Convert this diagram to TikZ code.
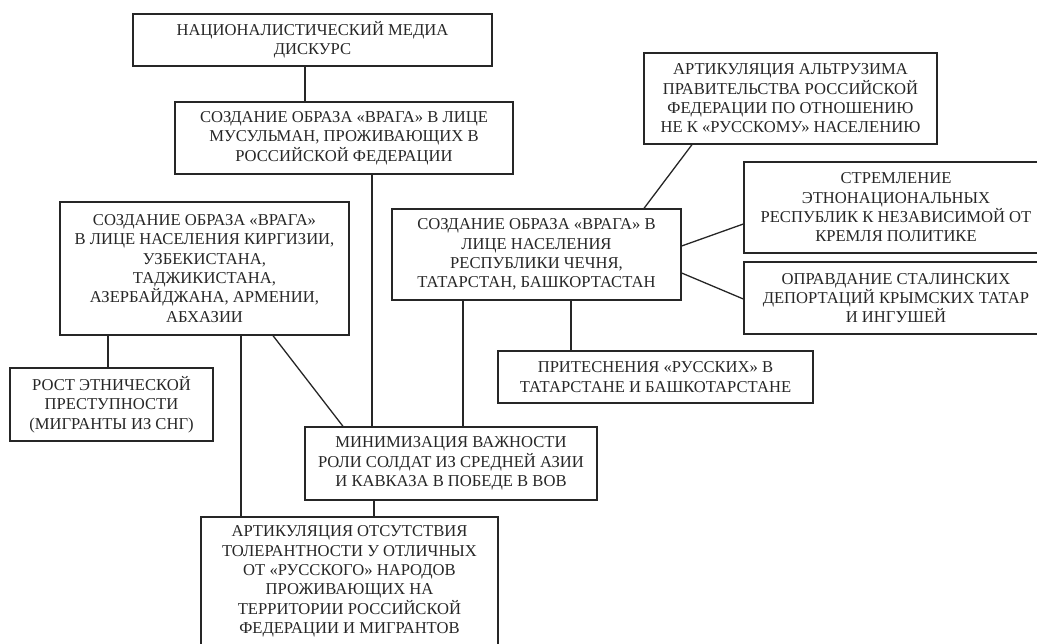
\documentclass[tikz,border=0pt]{standalone}
\usepackage{fontspec}
\setmainfont{Liberation Serif}
\begin{document}
\begin{tikzpicture}[x=1pt,y=-1pt,
  box/.style={draw=black!85,line width=1.3pt,align=center,inner sep=0pt,
    text=black!85,font=\fontsize{16.6}{19.3}\selectfont},
  link/.style={draw=black!85,line width=1.3pt}]
\useasboundingbox (0,0) rectangle (1037,644);
\clip (0,0) rectangle (1037,644);
\node[box,minimum width=359pt,minimum height=52pt] (top) at (312.5,40) {НАЦИОНАЛИСТИЧЕСКИЙ МЕДИА\\ДИСКУРС};
\node[box,minimum width=338pt,minimum height=72pt] (mus) at (344,138) {СОЗДАНИЕ ОБРАЗА «ВРАГА» В ЛИЦЕ\\МУСУЛЬМАН, ПРОЖИВАЮЩИХ В\\РОССИЙСКОЙ ФЕДЕРАЦИИ};
\node[box,minimum width=289pt,minimum height=133pt] (kirg) at (204.5,268.5) {СОЗДАНИЕ ОБРАЗА «ВРАГА»\\В ЛИЦЕ НАСЕЛЕНИЯ КИРГИЗИИ,\\УЗБЕКИСТАНА,\\ТАДЖИКИСТАНА,\\АЗЕРБАЙДЖАНА, АРМЕНИИ,\\АБХАЗИИ};
\node[box,minimum width=289pt,minimum height=91pt] (chech) at (536.5,254.5) {СОЗДАНИЕ ОБРАЗА «ВРАГА» В\\ЛИЦЕ НАСЕЛЕНИЯ\\РЕСПУБЛИКИ ЧЕЧНЯ,\\ТАТАРСТАН, БАШКОРТАСТАН};
\node[box,minimum width=293pt,minimum height=91pt] (altr) at (790.5,98.5) {АРТИКУЛЯЦИЯ АЛЬТРУЗИМА\\ПРАВИТЕЛЬСТВА РОССИЙСКОЙ\\ФЕДЕРАЦИИ ПО ОТНОШЕНИЮ\\НЕ К «РУССКОМУ» НАСЕЛЕНИЮ};
\node[box,minimum width=304pt,minimum height=91pt] (strem) at (896,207.5) {СТРЕМЛЕНИЕ\\ЭТНОНАЦИОНАЛЬНЫХ\\РЕСПУБЛИК К НЕЗАВИСИМОЙ ОТ\\КРЕМЛЯ ПОЛИТИКЕ};
\node[box,minimum width=304pt,minimum height=72pt] (oprav) at (896,298) {ОПРАВДАНИЕ СТАЛИНСКИХ\\ДЕПОРТАЦИЙ КРЫМСКИХ ТАТАР\\И ИНГУШЕЙ};
\node[box,minimum width=203pt,minimum height=73pt] (rost) at (111.5,404.5) {РОСТ ЭТНИЧЕСКОЙ\\ПРЕСТУПНОСТИ\\(МИГРАНТЫ ИЗ СНГ)};
\node[box,minimum width=315pt,minimum height=52pt] (prit) at (655.5,377) {ПРИТЕСНЕНИЯ «РУССКИХ» В\\ТАТАРСТАНЕ И БАШКОТАРСТАНЕ};
\node[box,minimum width=292pt,minimum height=73pt] (minim) at (451,463.5) {МИНИМИЗАЦИЯ ВАЖНОСТИ\\РОЛИ СОЛДАТ ИЗ СРЕДНЕЙ АЗИИ\\И КАВКАЗА В ПОБЕДЕ В ВОВ};
\node[box,minimum width=297pt,minimum height=129pt] (artic) at (349.5,581.5) {АРТИКУЛЯЦИЯ ОТСУТСТВИЯ\\ТОЛЕРАНТНОСТИ У ОТЛИЧНЫХ\\ОТ «РУССКОГО» НАРОДОВ\\ПРОЖИВАЮЩИХ НА\\ТЕРРИТОРИИ РОССИЙСКОЙ\\ФЕДЕРАЦИИ И МИГРАНТОВ};
% connectors
\draw[link] (305,0 |- top.south) -- (305,0 |- mus.north);
\draw[link] (372,0 |- mus.south) -- (372,0 |- minim.north);
\draw[link] (463,0 |- chech.south) -- (463,0 |- minim.north);
\draw[link] (571,0 |- chech.south) -- (571,0 |- prit.north);
\draw[link] (692,0 |- altr.south) -- (644,0 |- chech.north);
\draw[link] (chech.east |- 0,246) -- (strem.west |- 0,224);
\draw[link] (chech.east |- 0,273) -- (oprav.west |- 0,299);
\draw[link] (108,0 |- kirg.south) -- (108,0 |- rost.north);
\draw[link] (241,0 |- kirg.south) -- (241,0 |- artic.north);
\draw[link] (273,0 |- kirg.south) -- (343,0 |- minim.north);
\draw[link] (374,0 |- minim.south) -- (374,0 |- artic.north);
\end{tikzpicture}
\end{document}
